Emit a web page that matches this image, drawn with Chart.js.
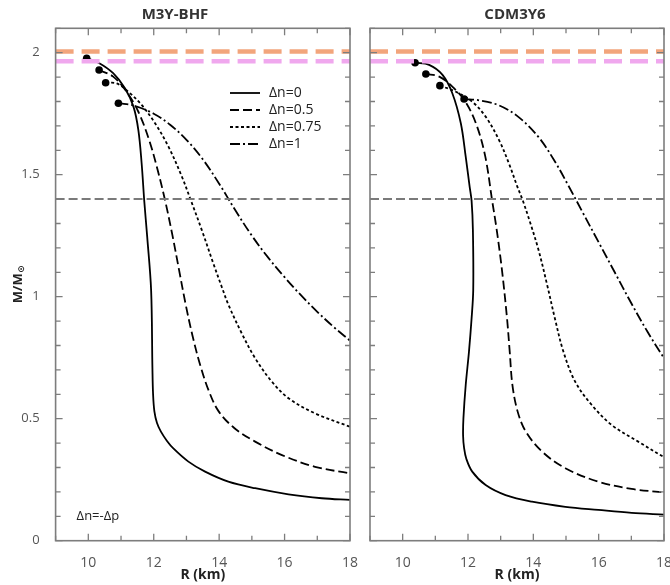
<!DOCTYPE html>
<html>
<head>
<meta charset="utf-8">
<script src="https://cdn.jsdelivr.net/npm/chart.js@4.4.0/dist/chart.umd.min.js"></script>
<style>
  body { margin: 0; background: #fff; }
  .wrap { position: relative; width: 670px; height: 585px; overflow: hidden; }
  #left { position: absolute; left: 0; top: 0; }
  #right { position: absolute; left: 366px; top: 0; }
</style>
</head>
<body>
<div class="wrap">
  <canvas id="left" width="368" height="585"></canvas>
  <canvas id="right" width="304" height="585"></canvas>
</div>
<script>
// axis ranges
const rMin = 9, rMax = 18;
const mMin = 0, mMax = 2.1;

const legendLabels = ['Δn=0', 'Δn=0.5', 'Δn=0.75', 'Δn=1'];

// observational limits + canonical 1.4 Msun
const limitOrange = 2.005;
const limitPink = 1.965;
const canonM = 1.4;

// M3Y-BHF, R in km, M in Msun (first point = max mass)
const bhfR0 = [9.95, 10.31, 10.76, 11.12, 11.38, 11.53, 11.63, 11.71, 11.80, 11.92, 11.96, 11.98, 12.02, 12.10, 12.22, 12.40, 12.60, 13.06, 13.57, 14.28, 15.10, 16.12, 17.14, 18.0];
const bhfM0 = [1.977, 1.959, 1.916, 1.854, 1.779, 1.683, 1.547, 1.393, 1.246, 1.027, 0.707, 0.600, 0.530, 0.482, 0.447, 0.410, 0.378, 0.324, 0.283, 0.242, 0.215, 0.190, 0.174, 0.167];
const bhfR05 = [10.33, 10.76, 11.17, 11.53, 11.86, 12.12, 12.35, 12.58, 12.775, 12.98, 13.18, 13.42, 13.695, 13.99, 14.47, 15.10, 15.92, 16.93, 18.0];
const bhfM05 = [1.929, 1.902, 1.840, 1.758, 1.642, 1.519, 1.393, 1.246, 1.109, 0.966, 0.843, 0.720, 0.610, 0.529, 0.461, 0.406, 0.351, 0.303, 0.276];
const bhfR075 = [10.53, 10.87, 11.22, 11.63, 12.04, 12.45, 12.86, 13.14, 13.47, 13.82, 14.08, 14.28, 14.69, 15.10, 15.61, 16.12, 16.93, 18.0];
const bhfM075 = [1.877, 1.874, 1.840, 1.786, 1.711, 1.615, 1.492, 1.393, 1.273, 1.137, 1.040, 0.968, 0.850, 0.748, 0.652, 0.584, 0.522, 0.467];
const bhfR1 = [10.92, 11.4, 12.0, 12.5, 13.0, 13.5, 14.0, 14.5, 15.0, 15.5, 16.0, 16.5, 17.0, 17.5, 18.0];
const bhfM1 = [1.793, 1.783, 1.750, 1.705, 1.643, 1.563, 1.463, 1.353, 1.250, 1.160, 1.080, 1.006, 0.938, 0.876, 0.820];
const bhfMaxR = [9.95, 10.33, 10.53, 10.92];
const bhfMaxM = [1.977, 1.929, 1.877, 1.793];

// CDM3Y6
const cdmR0 = [10.38, 10.81, 11.22, 11.52, 11.78, 11.93, 12.05, 12.11, 12.15, 12.16, 12.11, 12.03, 11.93, 11.86, 11.85, 11.88, 11.95, 12.13, 12.54, 13.15, 13.96, 14.98, 15.99, 17.01, 18.0];
const cdmM0 = [1.959, 1.950, 1.909, 1.834, 1.711, 1.574, 1.451, 1.393, 1.273, 1.027, 0.911, 0.775, 0.638, 0.502, 0.430, 0.380, 0.335, 0.283, 0.228, 0.187, 0.160, 0.139, 0.126, 0.114, 0.107];
const cdmR05 = [10.71, 11.12, 11.52, 11.92, 12.26, 12.53, 12.74, 12.88, 13.04, 13.195, 13.277, 13.36, 13.52, 13.77, 14.27, 14.98, 15.99, 17.01, 18.0];
const cdmM05 = [1.913, 1.902, 1.861, 1.799, 1.704, 1.574, 1.393, 1.273, 1.109, 0.911, 0.775, 0.638, 0.529, 0.447, 0.365, 0.297, 0.242, 0.212, 0.198];
const cdmR075 = [11.14, 11.63, 12.13, 12.54, 12.95, 13.25, 13.51, 13.68, 13.91, 14.16, 14.42, 14.66, 14.92, 15.28, 15.79, 16.40, 17.21, 18.0];
const cdmM075 = [1.865, 1.840, 1.799, 1.738, 1.642, 1.547, 1.451, 1.393, 1.301, 1.191, 1.050, 0.911, 0.775, 0.652, 0.556, 0.474, 0.406, 0.342];
const cdmR1 = [11.88, 12.34, 12.95, 13.55, 14.16, 14.67, 15.07, 15.5, 16.0, 16.5, 17.0, 17.5, 18.0];
const cdmM1 = [1.810, 1.805, 1.784, 1.736, 1.654, 1.552, 1.456, 1.348, 1.223, 1.098, 0.973, 0.855, 0.748];
const cdmMaxR = [10.38, 10.71, 11.14, 11.88];
const cdmMaxM = [1.959, 1.913, 1.865, 1.810];

const dashes = [[], [9, 4], [3, 2.5], [10, 3, 2, 3]];
const FONT = '"Open Sans", "DejaVu Sans", sans-serif';

function pts(R, M) {
  return R.map((r, i) => ({ x: r, y: M[i] }));
}

function curve(idx, R, M) {
  return {
    label: legendLabels[idx], inLegend: true,
    data: pts(R, M), showLine: true, borderColor: '#000', borderWidth: 1.8,
    borderDash: dashes[idx], pointRadius: 0, tension: 0.35, fill: false, order: 5
  };
}

function hline(v, color, width, dash, order) {
  return {
    data: [{ x: rMin, y: v }, { x: rMax, y: v }], showLine: true, fill: false,
    borderColor: color, borderWidth: width, borderDash: dash, pointRadius: 0, order: order
  };
}

function buildDatasets(curves, maxR, maxM) {
  const ds = curves.map((c, i) => curve(i, c[0], c[1]));
  ds.push({ data: pts(maxR, maxM), showLine: false, pointRadius: 3.8, pointBackgroundColor: '#000', pointBorderWidth: 0, order: 3 });
  ds.push(hline(canonM, '#7a7a7a', 2, [9, 4], 2));
  ds.push(hline(limitOrange, '#f2a57c', 4.5, [18, 8], 1));
  ds.push(hline(limitPink, '#f0a8ee', 4.5, [18, 8], 1));
  return ds;
}

// inward ticks on all four sides + frame
const framePlugin = {
  id: 'frame',
  afterDatasetsDraw(chart) {
    const ctx = chart.ctx, a = chart.chartArea;
    const xs = chart.scales.x, ys = chart.scales.y;
    ctx.save();
    ctx.strokeStyle = '#7d7d7d';
    ctx.lineWidth = 1.3;
    ctx.beginPath();
    xs.ticks.forEach(t => {
      const px = xs.getPixelForValue(t.value);
      const len = t.value % 2 === 0 ? 7 : 5;
      ctx.moveTo(px, a.bottom); ctx.lineTo(px, a.bottom - len);
      ctx.moveTo(px, a.top); ctx.lineTo(px, a.top + len);
    });
    ys.ticks.forEach(t => {
      const py = ys.getPixelForValue(t.value);
      const major = Math.abs(t.value * 2 - Math.round(t.value * 2)) < 1e-6;
      const len = major ? 7 : 5;
      ctx.moveTo(a.left, py); ctx.lineTo(a.left + len, py);
      ctx.moveTo(a.right, py); ctx.lineTo(a.right - len, py);
    });
    ctx.stroke();
    ctx.lineWidth = 1.6;
    ctx.strokeRect(a.left, a.top, a.right - a.left, a.bottom - a.top);
    ctx.restore();
  }
};

const legendPlugin = {
  id: 'lineLegend',
  afterDraw(chart, args, o) {
    if (!o.show) return;
    const ctx = chart.ctx;
    ctx.save();
    ctx.font = '14px ' + FONT;
    ctx.textBaseline = 'middle';
    ctx.fillStyle = '#222';
    chart.data.datasets.filter(d => d.inLegend).forEach((d, i) => {
      const y = o.y + i * o.step;
      ctx.strokeStyle = '#000';
      ctx.lineWidth = 1.8;
      ctx.setLineDash(d.borderDash);
      ctx.beginPath();
      ctx.moveTo(o.x, y); ctx.lineTo(o.x + o.len, y);
      ctx.stroke();
      ctx.setLineDash([]);
      ctx.fillText(d.label, o.x + o.len + o.gap, y);
    });
    ctx.restore();
  }
};

const notePlugin = {
  id: 'notes',
  afterDraw(chart, args, o) {
    const ctx = chart.ctx, a = chart.chartArea;
    ctx.save();
    ctx.fillStyle = '#222';
    ctx.textBaseline = 'middle';
    if (o.note) {
      ctx.font = '13px ' + FONT;
      ctx.fillText(o.note, a.left + o.noteDx, o.noteY);
    }
    if (o.yTitle) {
      ctx.translate(o.yTitleX, (a.top + a.bottom) / 2);
      ctx.rotate(-Math.PI / 2);
      ctx.font = 'bold 13px ' + FONT;
      const w1 = ctx.measureText(o.yTitle).width;
      ctx.font = 'bold 9px "DejaVu Sans"';
      const w2 = ctx.measureText(o.ySub).width;
      const x0 = -(w1 + w2) / 2;
      ctx.font = 'bold 13px ' + FONT;
      ctx.fillText(o.yTitle, x0, 0);
      ctx.font = 'bold 9px "DejaVu Sans"';
      ctx.fillText(o.ySub, x0 + w1 + 0.5, 3.5);
    }
    ctx.restore();
  }
};

function makeChart(id, title, datasets, cfg) {
  return new Chart(document.getElementById(id), {
    type: 'line',
    data: { datasets: datasets },
    plugins: [framePlugin, legendPlugin, notePlugin],
    options: {
      responsive: false,
      devicePixelRatio: 1,
      animation: false,
      events: [],
      layout: { padding: { left: 0, right: cfg.padRight, top: 0, bottom: 0 } },
      plugins: {
        legend: { display: false },
        tooltip: { enabled: false },
        title: {
          display: true, text: title, color: '#333',
          font: { family: FONT, size: 15, weight: 'bold' },
          padding: { top: 6, bottom: 4.3 }
        },
        lineLegend: cfg.legend,
        notes: cfg.notes
      },
      scales: {
        x: {
          type: 'linear', min: rMin, max: rMax,
          grid: { display: false },
          border: { display: false },
          ticks: {
            stepSize: 1, autoSkip: false, maxRotation: 0, padding: 6,
            color: '#555', font: { family: FONT, size: 14 },
            callback: v => (v % 2 === 0 ? String(v) : '')
          },
          title: {
            display: true, text: 'R (km)', color: '#222',
            font: { family: FONT, size: 14, weight: 'bold' },
            padding: { top: 0, bottom: 1.6 }
          },
          afterFit: s => { s.height = 44.3; s.paddingLeft = 0; s.paddingRight = 0; }
        },
        y: {
          type: 'linear', min: mMin, max: mMax,
          grid: { display: false },
          border: { display: false },
          ticks: {
            display: cfg.yLabels, stepSize: 0.1, autoSkip: false, padding: 8,
            color: '#555', font: { family: FONT, size: 13 },
            callback: v => (Math.abs(v * 2 - Math.round(v * 2)) < 1e-6 ? String(Math.round(v * 10) / 10) : '')
          },
          afterFit: s => { s.width = cfg.yWidth; s.paddingTop = 0; s.paddingBottom = 0; }
        }
      }
    }
  });
}

makeChart('left', 'M3Y-BHF',
  buildDatasets([[bhfR0, bhfM0], [bhfR05, bhfM05], [bhfR075, bhfM075], [bhfR1, bhfM1]], bhfMaxR, bhfMaxM),
  {
    padRight: 18, yWidth: 55.6, yLabels: true,
    legend: { show: true, x: 230, y: 93, step: 17, len: 30, gap: 9 },
    notes: { note: 'Δn=-Δp', noteDx: 21, noteY: 516, yTitle: 'M/M', ySub: '⊙', yTitleX: 18 }
  });

makeChart('right', 'CDM3Y6',
  buildDatasets([[cdmR0, cdmM0], [cdmR05, cdmM05], [cdmR075, cdmM075], [cdmR1, cdmM1]], cdmMaxR, cdmMaxM),
  {
    padRight: 6, yWidth: 2.9, yLabels: false,
    legend: { show: false },
    notes: {}
  });
</script>
</body>
</html>
